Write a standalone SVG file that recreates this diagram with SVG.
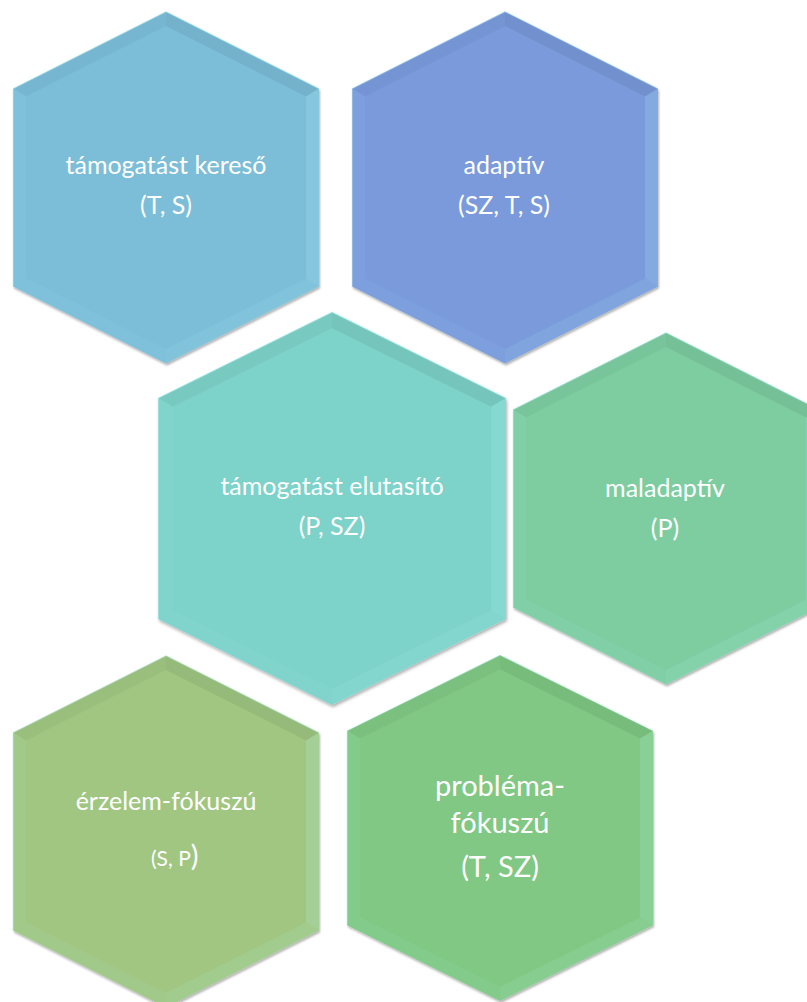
<svg xmlns="http://www.w3.org/2000/svg" xmlns:xlink="http://www.w3.org/1999/xlink" width="807" height="1002" viewBox="0 0 807 1002">
  <style>
    .lbl { font-family: Lato, "Open Sans", "Liberation Sans", sans-serif; fill: #ffffff; text-anchor: middle; font-size: 25px; }
    .big { font-size: 29px; }
  </style>
  <defs>
    <filter id="sh" x="-10%" y="-10%" width="120%" height="120%">
      <feDropShadow dx="1" dy="2" stdDeviation="1.2" flood-color="#000" flood-opacity="0.3"/>
    </filter>
    <g id="hex">
      <polygon points="0,-176 153,-99 153,99 0,176 -153,99 -153,-99" filter="url(#sh)"/>
      <polygon points="-153,-99 0,-176 0,-161.4 -140,-91" fill="#000" fill-opacity="0.035"/>
      <polygon points="0,-176 153,-99 140,-91 0,-161.4" fill="#000" fill-opacity="0.06"/>
      <polygon points="153,-99 153,99 140,91 140,-91" fill="#bff" fill-opacity="0.16"/>
      <polygon points="153,99 0,176 0,161.4 140,91" fill="#bff" fill-opacity="0.1"/>
      <polygon points="0,176 -153,99 -140,91 0,161.4" fill="#bff" fill-opacity="0.06"/>
      <polygon points="-153,99 -153,-99 -140,-91 -140,91" fill="#bff" fill-opacity="0.06"/>
      <polyline points="-153,99 -153,-99 0,-176 153,-99" fill="none" stroke="#cff" stroke-opacity="0.35" stroke-width="1.5"/>
    </g>
  </defs>

  <g id="connectors"></g>

  <g id="node-tamogatast-kereso">
    <use xlink:href="#hex" href="#hex" fill="#7bbdd8" transform="translate(166,187.5)"/>
    <text class="lbl" x="166" y="174">támogatást kereső</text>
    <text class="lbl" x="166" y="214">(T, S)</text>
  </g>

  <g id="node-adaptiv">
    <use xlink:href="#hex" href="#hex" fill="#7a9adb" transform="translate(505,187.5)"/>
    <text class="lbl" x="504" y="174">adaptív</text>
    <text class="lbl" x="504" y="214">(SZ, T, S)</text>
  </g>

  <g id="node-tamogatast-elutasito">
    <use xlink:href="#hex" href="#hex" fill="#7dd2c9" transform="translate(332,508.5) scale(1.137,1.117)"/>
    <text class="lbl" x="332" y="495">támogatást elutasító</text>
    <text class="lbl" x="332" y="535">(P, SZ)</text>
  </g>

  <g id="node-maladaptiv">
    <use xlink:href="#hex" href="#hex" fill="#7dcda1" transform="translate(666,508.5)"/>
    <text class="lbl" x="665" y="497">maladaptív</text>
    <text class="lbl" x="665" y="537">(P)</text>
  </g>

  <g id="node-erzelem-fokuszu">
    <use xlink:href="#hex" href="#hex" fill="#a0c682" transform="translate(166,831.5)"/>
    <text class="lbl" x="166" y="810">érzelem-fókuszú</text>
    <text class="lbl" x="151" y="866" style="text-anchor:start"><tspan style="font-size:21px">(S, P</tspan><tspan style="font-size:29px">)</tspan></text>
  </g>

  <g id="node-problema-fokuszu">
    <use xlink:href="#hex" href="#hex" fill="#80c883" transform="translate(500,828) scale(1,0.983)"/>
    <text class="lbl big" x="500" y="796">probléma-</text>
    <text class="lbl big" x="500" y="833">fókuszú</text>
    <text class="lbl big" x="500" y="877">(T, SZ)</text>
  </g>
</svg>
